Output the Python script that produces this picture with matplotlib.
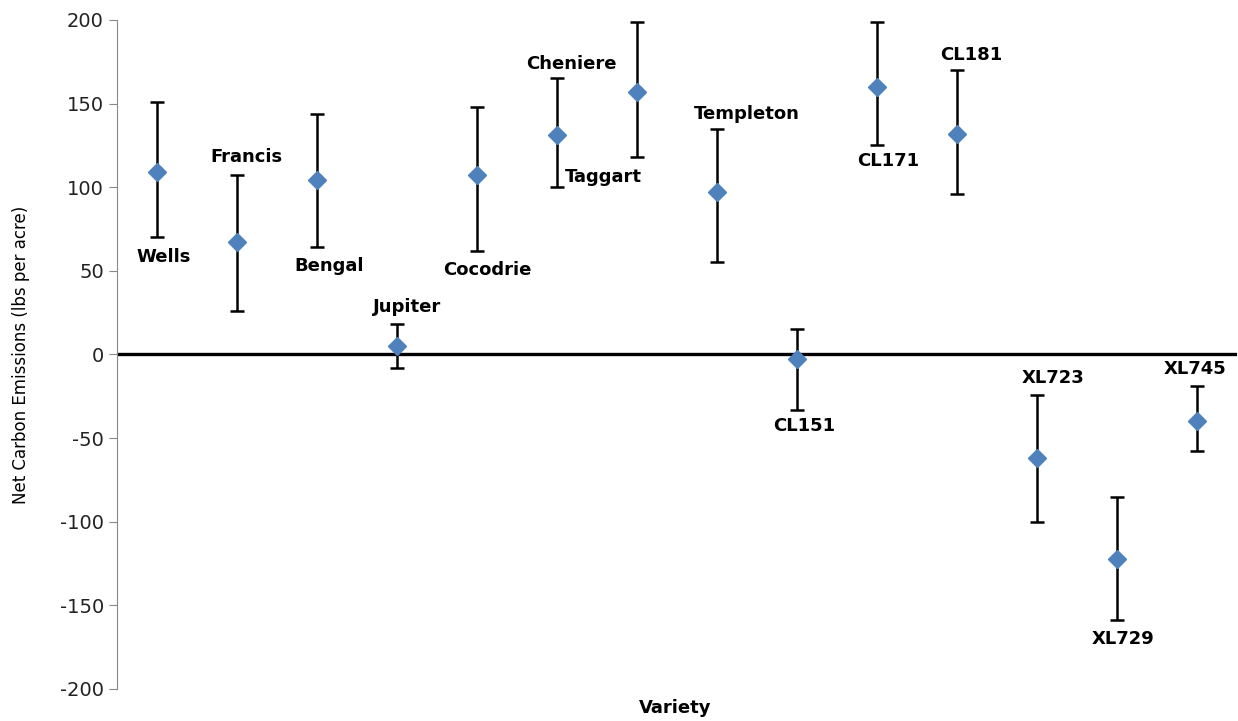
import matplotlib.pyplot as plt

plt.rcParams["axes.unicode_minus"] = False

# Net carbon emissions per rice variety
varieties = ["Wells", "Francis", "Bengal", "Jupiter", "Cocodrie", "Cheniere", "Taggart",
             "Templeton", "CL151", "CL171", "CL181", "XL723", "XL729", "XL745"]
emissions = [109, 67, 104, 5, 107, 131, 157, 97, -3, 160, 132, -62, -122, -40]
err_low = [39, 41, 40, 13, 45, 31, 39, 42, 30, 35, 36, 38, 37, 18]
err_high = [42, 40, 40, 13, 41, 34, 42, 38, 18, 39, 38, 38, 37, 21]

# label placement: (side, dx px, dy px)
label_pos = [("below", 7, 20), ("above", 9, 18), ("below", 12, 19), ("above", 10, 17),
             ("below", 10, 19), ("above", 14, 14), ("below", -34, 20), ("above", 30, 15),
             ("below", 7, 16), ("below", 11, 16), ("above", 14, 15), ("above", 16, 17),
             ("below", 6, 19), ("above", -2, 17)]

x = list(range(1, len(varieties) + 1))

fig = plt.figure(figsize=(12.38, 7.21), dpi=100)
ax = fig.add_axes([0.0945, 0.0444, 0.905, 0.928])

ax.axhline(0, color="black", lw=2.4, zorder=1)
ax.errorbar(x, emissions, yerr=[err_low, err_high], fmt="D", color="#4F81BD",
            ms=9, ecolor="black", elinewidth=1.8, capsize=5, capthick=1.8, zorder=3)

for xi, v, lo, hi, name, (side, dx, dy) in zip(x, emissions, err_low, err_high, varieties, label_pos):
    if side == "above":
        ax.annotate(name, (xi, v + hi), xytext=(dx, dy), textcoords="offset pixels",
                    ha="center", va="center", fontsize=13, fontweight="bold")
    else:
        ax.annotate(name, (xi, v - lo), xytext=(dx, -dy), textcoords="offset pixels",
                    ha="center", va="center", fontsize=13, fontweight="bold")

ax.set_xlim(0.5, 14.5)
ax.set_ylim(-200, 200)
ax.set_yticks(range(-200, 201, 50))
ax.set_xticks([])
ax.tick_params(axis="y", labelsize=14, color="#888888", length=6, labelcolor="#222222")
for s in ["top", "right", "bottom"]:
    ax.spines[s].set_visible(False)
ax.spines["left"].set_color("#888888")

ax.set_ylabel("Net Carbon Emissions (lbs per acre)", fontsize=12)
ax.yaxis.set_label_coords(-0.078, 0.5)
fig.text(0.545, 0.018, "Variety", ha="center", va="center", fontsize=13, fontweight="bold")

fig.savefig("out.png", dpi=100)
